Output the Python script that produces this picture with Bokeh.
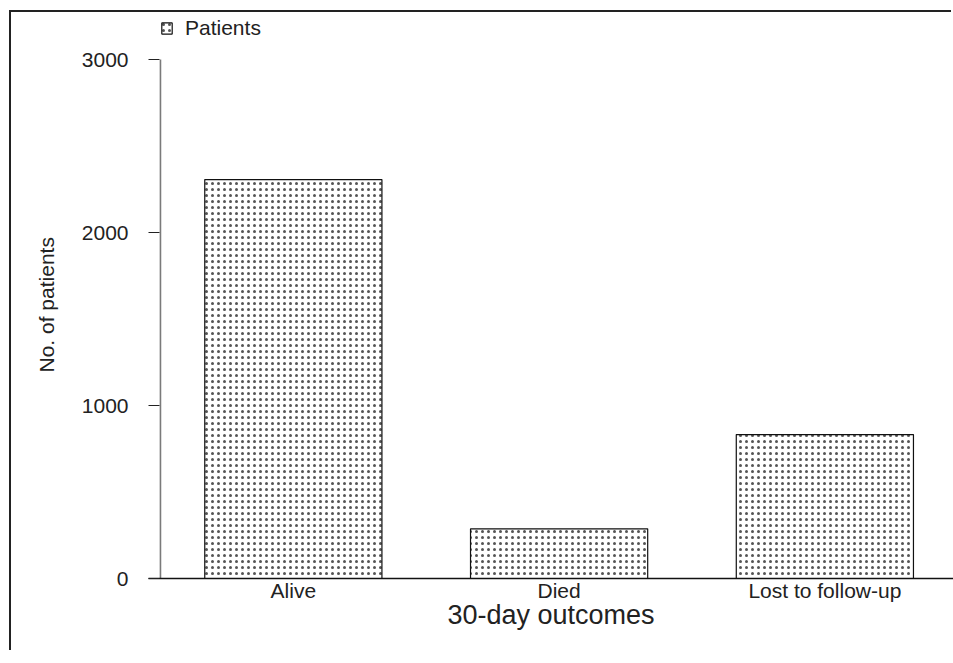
from bokeh.plotting import figure
from bokeh.models import (Range1d, FixedTicker, Legend, LegendItem, Title,
                          ColumnDataSource)
from bokeh.embed import file_html
from bokeh.resources import INLINE

# 30-day outcome counts
outcomes = ["Alive", "Died", "Lost to follow-up"]
patients = [2306, 287, 832]
y_ticks = [0, 1000, 2000, 3000]

FONT = "Liberation Sans"
INK = "#222222"

# plot area reaches the top of the graph region; the axis itself stops at the last tick
FRAME_H = 566
AXIS_H = 519
y_top = max(y_ticks) * FRAME_H / AXIS_H

pos = [i + 0.5 for i in range(len(outcomes))]
src = ColumnDataSource(dict(x=pos, top=patients, name=outcomes))

p = figure(width=942, height=640, output_backend="svg", toolbar_location=None,
           x_range=Range1d(-0.045, 2.984), y_range=Range1d(min(y_ticks), y_top),
           min_border_left=137, min_border_right=0, min_border_top=0,
           min_border_bottom=74)
p.outline_line_color = None
p.grid.visible = False
p.background_fill_color = "white"
p.border_fill_color = "white"
# outer frame: left and top edges of the graph region
p.margin = (12, 0, 0, 11)
p.styles = {"box-shadow": "-2px -2px 0 0 #222222"}

bars = p.vbar(x="x", top="top", bottom=0, width=2 / 3, source=src,
              fill_color="white", line_color="#111111", line_width=1.2,
              hatch_pattern="dot", hatch_color="#555555", hatch_scale=6,
              hatch_weight=1.0)

# vertical axis line drawn from the first to the last tick
p.segment(x0=[0], y0=[min(y_ticks)], x1=[0], y1=[max(y_ticks)],
          line_color="#7a7a7a", line_width=1.6)

# x axis
xa = p.xaxis[0]
xa.ticker = FixedTicker(ticks=pos)
xa.major_label_overrides = {x: n for x, n in zip(pos, outcomes)}
xa.major_tick_line_color = None
xa.minor_tick_line_color = None
xa.axis_line_color = "#111111"
xa.axis_line_width = 1.4
xa.major_label_standoff = -6
xa.major_label_text_font = FONT
xa.major_label_text_font_size = "21px"
xa.major_label_text_color = INK
xa.axis_label = "30-day outcomes"
xa.axis_label_text_font = FONT
xa.axis_label_text_font_size = "27px"
xa.axis_label_text_font_style = "normal"
xa.axis_label_text_color = INK
xa.axis_label_standoff = -5

# y axis
ya = p.yaxis[0]
ya.ticker = FixedTicker(ticks=y_ticks)
ya.axis_line_color = None
ya.major_tick_in = 11
ya.major_tick_out = 0
ya.major_tick_line_color = "#222222"
ya.major_tick_line_width = 1.2
ya.minor_tick_line_color = None
ya.major_label_standoff = 20
ya.major_label_text_font = FONT
ya.major_label_text_font_size = "21px"
ya.major_label_text_color = INK

p.add_layout(Title(text="No. of patients", align="left", offset=206,
                   standoff=41, text_font=FONT, text_font_size="21px",
                   text_font_style="normal", text_color=INK), "left")

legend = Legend(items=[LegendItem(label="Patients", renderers=[bars])],
                location=(12, 538), orientation="horizontal",
                glyph_width=13, glyph_height=14, label_standoff=12,
                label_text_font=FONT, label_text_font_size="21px",
                label_text_color=INK, padding=0, margin=0, spacing=0,
                border_line_color=None, background_fill_alpha=0)
p.add_layout(legend)

open("out.html", "w").write(file_html(p, INLINE))
